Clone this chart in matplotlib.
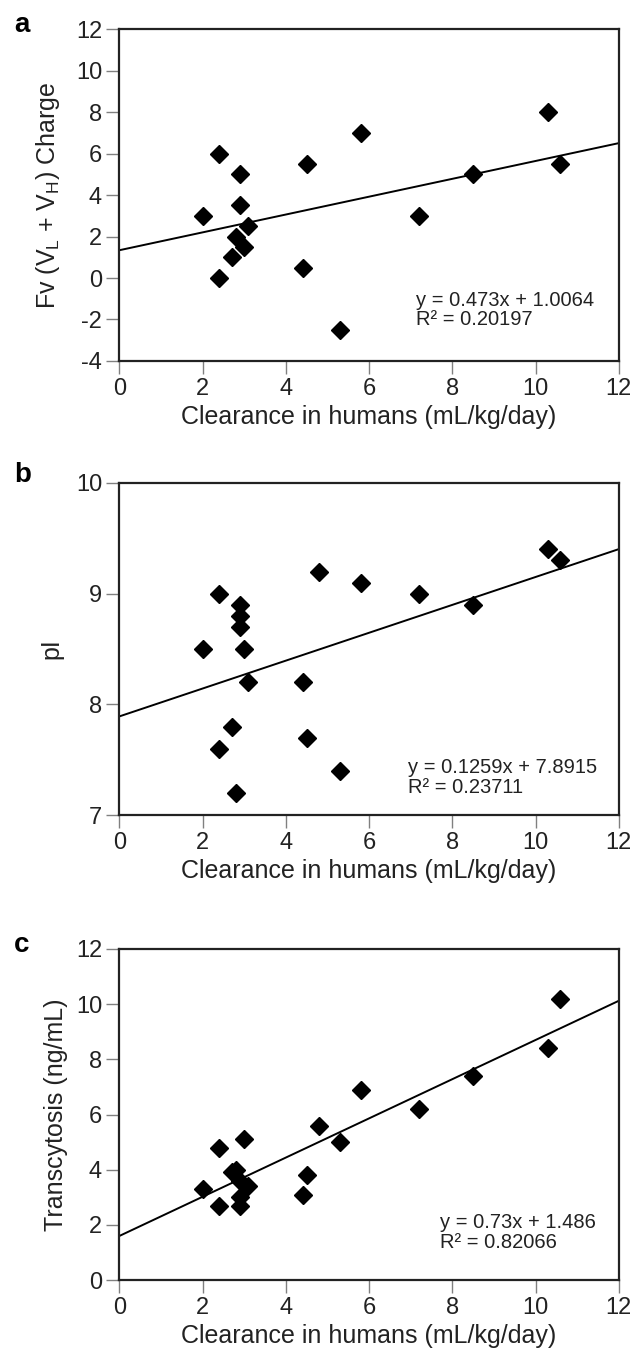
import matplotlib
matplotlib.use("Agg")
from matplotlib import pyplot as plt
import numpy as np

plt.rcParams["font.family"] = ["Liberation Sans", "DejaVu Sans"]
plt.rcParams["mathtext.fontset"] = "custom"
plt.rcParams["mathtext.rm"] = "Liberation Sans"
plt.rcParams["axes.unicode_minus"] = False

# clearance in humans (mL/kg/day)
clear_a = [2.0, 2.4, 2.4, 2.7, 2.8, 2.9, 2.9, 3.0, 3.1, 4.4, 4.5, 5.3, 5.8, 7.2, 8.5, 10.3, 10.6]
charge = [3.0, 6.0, 0.0, 1.0, 2.0, 5.0, 3.5, 1.5, 2.5, 0.5, 5.5, -2.5, 7.0, 3.0, 5.0, 8.0, 5.5]

clear_bc = [2.0, 2.4, 2.4, 2.7, 2.8, 2.9, 2.9, 2.9, 3.0, 3.1, 4.4, 4.5, 4.8, 5.3, 5.8, 7.2, 8.5, 10.3, 10.6]
pi_vals = [8.5, 9.0, 7.6, 7.8, 7.2, 8.9, 8.8, 8.7, 8.5, 8.2, 8.2, 7.7, 9.2, 7.4, 9.1, 9.0, 8.9, 9.4, 9.3]
transcyt = [3.3, 4.8, 2.7, 3.9, 4.0, 3.6, 3.0, 2.7, 5.1, 3.4, 3.1, 3.8, 5.6, 5.0, 6.9, 6.2, 7.4, 8.4, 10.2]

# trend lines as drawn (intercept, slope)
line_a = (1.34, 0.43)
line_b = (7.8915, 0.1259)
line_c = (1.6, 0.71)

eq_a = "y = 0.473x + 1.0064\nR² = 0.20197"
eq_b = "y = 0.1259x + 7.8915\nR² = 0.23711"
eq_c = "y = 0.73x + 1.486\nR² = 0.82066"

fs_tick = 17
fs_lab = 18
fig = plt.figure(figsize=(6.32, 13.51), dpi=100)

panels = [
    ([0.189, 0.7328, 0.790, 0.2457], clear_a, charge, line_a, eq_a, (0.593, 0.212),
     (-4, 12), np.arange(-4, 13, 2), "Fv (V$_{\\rm L}$ + V$_{\\rm H}$) Charge", 10, "a", 0.991),
    ([0.189, 0.3967, 0.790, 0.2458], clear_bc, pi_vals, line_b, eq_b, (0.578, 0.172),
     (7, 10), np.arange(7, 11, 1), "pI", 9, "b", 0.658),
    ([0.189, 0.0525, 0.790, 0.2451], clear_bc, transcyt, line_c, eq_c, (0.643, 0.202),
     (0, 12), np.arange(0, 13, 2), "Transcytosis (ng/mL)", 6, "c", 0.310),
]

for rect, xs, ys, (b0, b1), eq, eqpos, ylim, yticks, ylab, lpad, letter, ly in panels:
    ax = fig.add_axes(rect)
    xl = np.array([0, 12])
    ax.plot(xl, b0 + b1 * xl, color="black", lw=1.4, zorder=2)
    ax.plot(xs, ys, "D", color="black", markersize=9, zorder=3, clip_on=False)
    ax.set_xlim(0, 12)
    ax.set_ylim(*ylim)
    ax.set_xticks(np.arange(0, 13, 2))
    ax.set_yticks(yticks)
    ax.tick_params(direction="out", length=9.5, width=1, color="#808080",
                   labelsize=fs_tick, pad=3, labelcolor="#222222")
    for sp in ax.spines.values():
        sp.set_linewidth(1.6)
        sp.set_color("#222222")
    ax.set_xlabel("Clearance in humans (mL/kg/day)", fontsize=fs_lab, labelpad=3,
                  color="#222222")
    ax.set_ylabel(ylab, fontsize=fs_lab, labelpad=lpad, color="#222222")
    ax.text(eqpos[0], eqpos[1], eq, transform=ax.transAxes, fontsize=14.5,
            va="top", ha="left", linespacing=1.05, color="#222222")
    fig.text(0.022, ly, letter, fontsize=20, fontweight="bold", va="top", ha="left")

plt.savefig("out.png", dpi=100)
